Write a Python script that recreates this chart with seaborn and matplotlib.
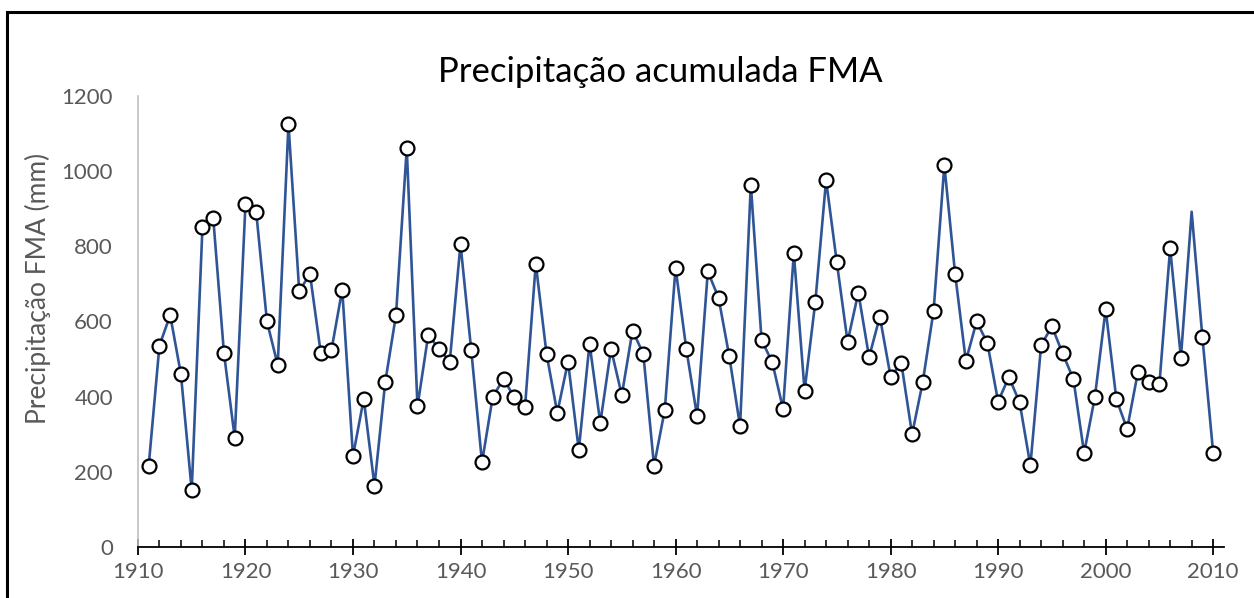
import numpy as np
import pandas as pd
import matplotlib
matplotlib.use("Agg")
import matplotlib.pyplot as plt
from matplotlib.ticker import MultipleLocator
from matplotlib.patches import Rectangle
import seaborn as sns

# Accumulated Feb-Mar-Apr precipitation (mm), 1911-2010
years = list(range(1911, 2011))
precip_mm = [
    216, 536, 617, 459, 151, 851, 876, 516, 291, 912,   # 1911-1920
    891, 600, 484, 1125, 681, 726, 517, 524, 685, 242,  # 1921-1930
    394, 163, 439, 617, 1061, 374, 564, 528, 493, 806,  # 1931-1940
    523, 225, 400, 447, 399, 372, 754, 514, 357, 493,   # 1941-1950
    258, 541, 330, 527, 404, 576, 514, 216, 365, 743,   # 1951-1960
    527, 348, 733, 663, 507, 321, 964, 551, 491, 367,   # 1961-1970
    782, 416, 652, 976, 757, 546, 677, 505, 613, 453,   # 1971-1980
    489, 300, 440, 629, 1016, 727, 495, 600, 543, 387,  # 1981-1990
    452, 385, 217, 537, 587, 515, 447, 250, 399, 632,   # 1991-2000
    393, 314, 465, 440, 433, 795, 504, 892, 558, 251,   # 2001-2010
]
# year plotted without a marker
no_marker_years = [2008]

title = "Precipitação acumulada FMA"
ylabel = "Precipitação FMA (mm)"

df = pd.DataFrame({"ano": years, "precip": precip_mm})
df_marks = df[~df["ano"].isin(no_marker_years)]

sns.set_theme(style="white")
plt.rcParams["font.family"] = ["Lato", "DejaVu Sans"]

line_color = "#2F5597"
gray = "#595959"

W, H = 1254, 598
fig = plt.figure(figsize=(W / 100, H / 100), dpi=100)
ax = fig.add_axes([0.110, 0.0853, 0.866, 0.7542])

sns.lineplot(data=df, x="ano", y="precip", ax=ax, color=line_color,
             linewidth=1.9, zorder=2)
sns.scatterplot(data=df_marks, x="ano", y="precip", ax=ax, s=100,
                facecolor="white", edgecolor="black", linewidth=1.6,
                zorder=3)

ax.set_xlim(1910, 2011)
ax.set_ylim(0, 1200)
ax.yaxis.set_major_locator(MultipleLocator(200))
ax.xaxis.set_major_locator(MultipleLocator(10))
ax.xaxis.set_minor_locator(MultipleLocator(2))

for side in ("top", "right"):
    ax.spines[side].set_visible(False)
ax.spines["left"].set_color("#BFBFBF")
ax.spines["left"].set_linewidth(1.2)
ax.spines["bottom"].set_color("black")
ax.spines["bottom"].set_linewidth(1.3)

ax.tick_params(axis="x", which="major", direction="inout", length=11,
               width=1.3, color="black", labelsize=16, labelcolor=gray, pad=5,
               bottom=True)
ax.tick_params(axis="x", which="minor", direction="in", length=5,
               width=1.1, color="black", bottom=True)
ax.tick_params(axis="y", which="major", length=0, labelsize=16,
               labelcolor=gray, pad=18)

ax.set_xlabel("")
ax.set_ylabel(ylabel, fontsize=19, color=gray)
# label centre at x=38 px, y=288 px (figure pixels)
ax.yaxis.set_label_coords(38 / W, 1 - 288 / H, transform=fig.transFigure)
ax.yaxis.label.set_verticalalignment("center")

fig.text(660 / W, 1 - 82 / H, title, fontsize=25, color="black",
         ha="center", va="baseline")

# chart-area frame (left and top edges)
fig.patches.append(Rectangle((7 / W, -0.1), 1.2, 1.1 - 12.5 / H,
                             transform=fig.transFigure, fill=False,
                             edgecolor="black", linewidth=2.2, zorder=0))

fig.savefig("out.png", dpi=100, facecolor="white")
